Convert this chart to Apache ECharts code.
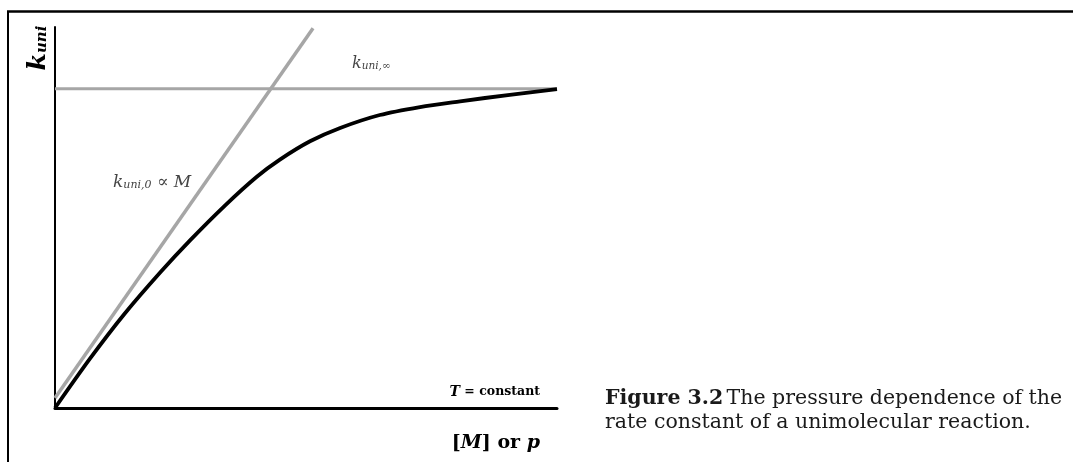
<!DOCTYPE html>
<html>
<head>
<meta charset="utf-8">
<script src="https://cdn.jsdelivr.net/npm/echarts@6/dist/echarts.min.js"></script>
<style>
  html, body { margin: 0; padding: 0; background: #fff; }
  #chart { width: 1073px; height: 462px; }
</style>
</head>
<body>
<div id="chart"></div>
<script>
// Pressure ([M] or p) on x, rate constant k_uni on y, both in arbitrary units (0..100).
const xRange = [0, 100];
const yRange = [0, 100];

// High-pressure limit k_uni,∞ (horizontal asymptote)
const kInfLevel = 83.8;
const kInfX = [0, 100];

// Low-pressure limit k_uni,0 ∝ M (straight line)
const kLowX = [0, 51.4];
const kLowY = [2.6, 99.7];

// Fall-off curve k_uni
const kuniX = [0, 7.0, 13.9, 20.9, 26.9, 33.9, 40.2, 44.8, 50.8, 56.8, 64.7, 72.7, 80.7, 90.6, 100];
const kuniY = [0, 13.0, 24.8, 35.5, 44.0, 53.2, 60.7, 65.2, 70.0, 73.5, 76.9, 79.0, 80.5, 82.2, 83.7];

const zip = (xs, ys) => xs.map((x, i) => [x, ys[i]]);

const serif = '"DejaVu Serif", "Liberation Serif", serif';
const grey = '#a6a6a6';

const chart = echarts.init(document.getElementById('chart'), null, { renderer: 'canvas' });

chart.setOption({
  animation: false,
  backgroundColor: '#fff',
  grid: { left: 55, right: 516, top: 27, bottom: 54 },
  xAxis: {
    type: 'value', min: xRange[0], max: xRange[1],
    axisLine: { show: true, onZero: false, lineStyle: { color: '#000', width: 3 } },
    axisTick: { show: false }, axisLabel: { show: false }, splitLine: { show: false }
  },
  yAxis: {
    type: 'value', min: yRange[0], max: yRange[1],
    axisLine: { show: true, onZero: false, lineStyle: { color: '#000', width: 2 } },
    axisTick: { show: false }, axisLabel: { show: false }, splitLine: { show: false }
  },
  series: [
    {
      name: 'k_uni,∞', type: 'line', showSymbol: false, silent: true,
      data: kInfX.map(x => [x, kInfLevel]),
      lineStyle: { color: grey, width: 3 }, z: 2
    },
    {
      name: 'k_uni,0', type: 'line', showSymbol: false, silent: true,
      data: zip(kLowX, kLowY),
      lineStyle: { color: grey, width: 3.5 }, z: 2
    },
    {
      name: 'k_uni', type: 'line', showSymbol: false, silent: true,
      smooth: 0.3,
      data: zip(kuniX, kuniY),
      lineStyle: { color: '#000', width: 3.8 }, z: 3
    }
  ],
  graphic: [
    // page frame
    { type: 'line', shape: { x1: 7, y1: 11.5, x2: 1073, y2: 11.5 }, style: { stroke: '#000', lineWidth: 2.5 } },
    { type: 'line', shape: { x1: 8, y1: 11, x2: 8, y2: 462 }, style: { stroke: '#000', lineWidth: 2 } },
    // y axis title k_uni (rotated)
    {
      type: 'text', x: 38, y: 48, rotation: Math.PI / 2,
      style: {
        text: '{k|k}{s|uni}', align: 'center', verticalAlign: 'middle',
        rich: {
          k: { fontFamily: serif, fontSize: 25, fontStyle: 'italic', fontWeight: 'bold', fill: '#000' },
          s: { fontFamily: serif, fontSize: 15, fontStyle: 'italic', fontWeight: 'bold', fill: '#000', padding: [8, 0, 0, 0] }
        }
      }
    },
    // x axis title
    {
      type: 'text', x: 540, y: 443,
      style: {
        text: '{b|[}{bi|M}{b|] or }{bi|p}', align: 'right', verticalAlign: 'middle',
        rich: {
          b: { fontFamily: serif, fontSize: 19, fontWeight: 'bold', fill: '#000' },
          bi: { fontFamily: serif, fontSize: 19, fontWeight: 'bold', fontStyle: 'italic', fill: '#000' }
        }
      }
    },
    // T = constant
    {
      type: 'text', x: 540, y: 392,
      style: {
        text: '{t|T}{c| = constant}', align: 'right', verticalAlign: 'middle',
        rich: {
          t: { fontFamily: serif, fontSize: 14, fontWeight: 'bold', fontStyle: 'italic', fill: '#000' },
          c: { fontFamily: serif, fontSize: 12.5, fontWeight: 'bold', fill: '#000' }
        }
      }
    },
    // k_uni,∞ label
    {
      type: 'text', x: 352, y: 72,
      style: {
        text: '{k|k}{s|uni,∞}', align: 'left', verticalAlign: 'bottom',
        rich: {
          k: { fontFamily: serif, fontSize: 16, fontStyle: 'italic', fill: '#444' },
          s: { fontFamily: serif, fontSize: 10.5, fontStyle: 'italic', fill: '#444', padding: [5, 0, 0, 0] }
        }
      }
    },
    // k_uni,0 ∝ M label
    {
      type: 'text', x: 113, y: 191,
      style: {
        text: '{k|k}{s|uni,0}{k| ∝ M}', align: 'left', verticalAlign: 'bottom',
        rich: {
          k: { fontFamily: serif, fontSize: 17, fontStyle: 'italic', fill: '#444' },
          s: { fontFamily: serif, fontSize: 11, fontStyle: 'italic', fill: '#444', padding: [5, 0, 0, 0] }
        }
      }
    },
    // caption
    {
      type: 'text', x: 605, y: 399,
      style: {
        text: '{b|Figure 3.2} {r|The pressure dependence of the}', align: 'left', verticalAlign: 'middle',
        rich: {
          b: { fontFamily: serif, fontSize: 20.5, fontWeight: 'bold', fill: '#1a1a1a' },
          r: { fontFamily: serif, fontSize: 20.5, fill: '#1a1a1a' }
        }
      }
    },
    {
      type: 'text', x: 605, y: 423,
      style: {
        text: 'rate constant of a unimolecular reaction.', align: 'left', verticalAlign: 'middle',
        fontFamily: serif, fontSize: 20.5, fill: '#1a1a1a'
      }
    }
  ]
});
</script>
</body>
</html>
